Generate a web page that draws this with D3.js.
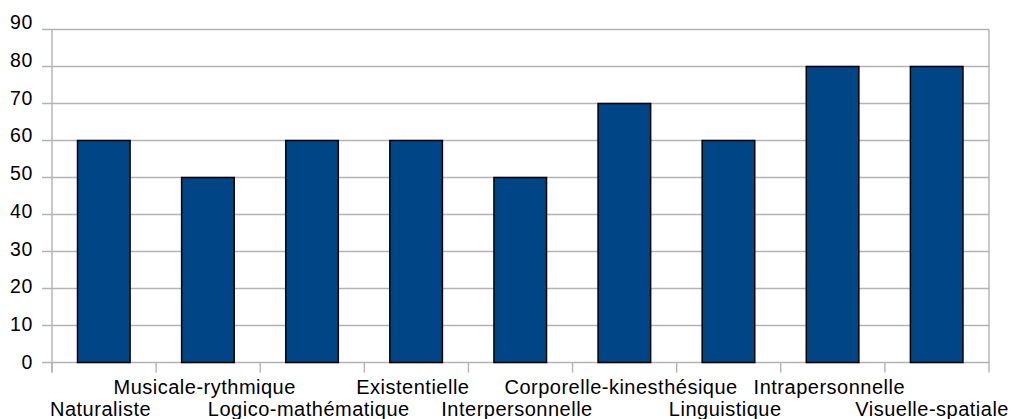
<!DOCTYPE html>
<html><head><meta charset="utf-8">
<script src="https://cdn.jsdelivr.net/npm/d3@7"></script>
<style>body{margin:0;background:#fff}svg{display:block}</style>
</head><body><svg id="c" width="1011" height="419"></svg>
<script>
const categories = ["Naturaliste","Musicale-rythmique","Logico-mathématique","Existentielle","Interpersonnelle","Corporelle-kinesthésique","Linguistique","Intrapersonnelle","Visuelle-spatiale"];
const values = [60,50,60,60,50,70,60,80,80];
const yTicks = [0,10,20,30,40,50,60,70,80,90];

(function(){
const svg = d3.select("#c");
const pLeft = 52, pRight = 989, pTop = 29.5, pBottom = 362.5;
const x = d3.scaleBand().domain(categories).range([pLeft, pRight]).paddingInner(0).paddingOuter(0);
const y = d3.scaleLinear().domain([0, 90]).range([pBottom, pTop]);
const yLab = d3.scaleLinear().domain([0, 90]).range([pBottom - 0.5, pTop - 7]);
const grey = "#b3b3b3";
const font = "'Liberation Sans', Arial, sans-serif";

svg.append("g").selectAll("line").data(yTicks).join("line")
  .attr("x1", 42).attr("x2", pRight).attr("y1", d => y(d)).attr("y2", d => y(d))
  .attr("stroke", grey).attr("stroke-width", 1.4);
svg.append("line").attr("x1", pLeft).attr("x2", pLeft).attr("y1", pTop).attr("y2", pBottom + 10).attr("stroke", grey).attr("stroke-width", 1.4);
const bounds = categories.map(c => x(c)).concat([pRight]);
svg.append("g").selectAll("line").data(bounds).join("line")
  .attr("x1", d => d).attr("x2", d => d).attr("y1", d => d === pRight ? pTop : pBottom).attr("y2", pBottom + 10)
  .attr("stroke", grey).attr("stroke-width", 1.4);

svg.append("g").selectAll("text").data(yTicks).join("text")
  .attr("x", 33).attr("y", d => yLab(d)).attr("dy", "0.35em")
  .attr("text-anchor", "end").attr("font-family", font).attr("font-size", 19.5)
  .attr("letter-spacing", 0.6).attr("fill", "#000")
  .text(d => d);

const bw = x.bandwidth();
svg.append("g").selectAll("rect").data(values).join("rect")
  .attr("x", (d, i) => x(categories[i]) + bw * 0.245)
  .attr("width", bw * 0.505)
  .attr("y", d => y(d))
  .attr("height", d => y(0) - y(d))
  .attr("fill", "#004586").attr("stroke", "#000").attr("stroke-width", 1.5);

const labels = svg.append("g").selectAll("text").data(categories).join("text")
  .attr("y", (d, i) => i % 2 === 1 ? 394 : 416)
  .attr("text-anchor", "start").attr("font-family", font).attr("font-size", 20)
  .attr("letter-spacing", 0.5).attr("fill", "#000")
  .text(d => d);
labels.each(function(d){
  const w = this.getComputedTextLength();
  let sx = x(d) + bw / 2 - 3.5 - w / 2;
  if (sx + w > 1009) sx = 1009 - w;
  d3.select(this).attr("x", sx);
});
})();
</script></body></html>
